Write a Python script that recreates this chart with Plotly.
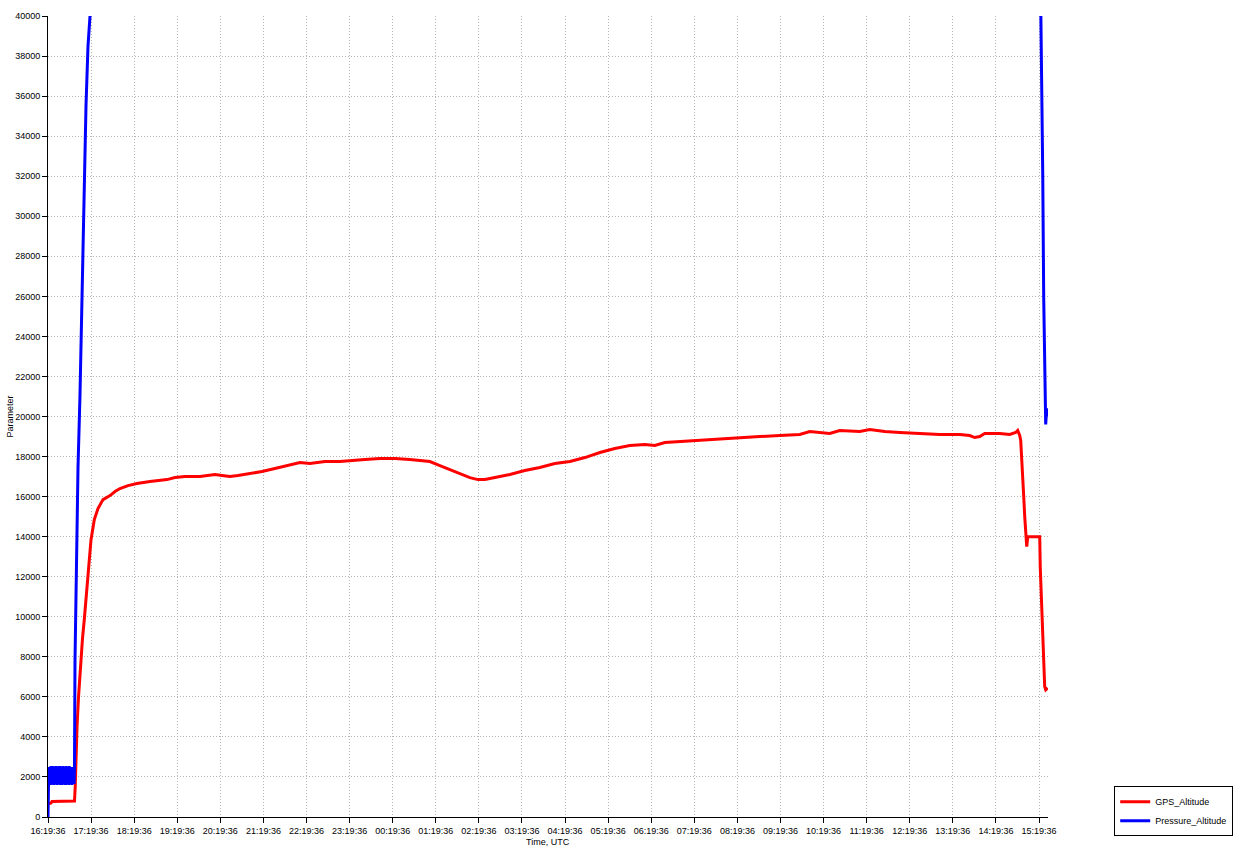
import pandas as pd
import plotly.graph_objects as go

START = "2000-01-01 16:19:36"

# GPS altitude: minutes since 16:19:36, feet
gps_minutes = [0, 4.2, 5.6, 36.9, 37.9, 39.0, 40.4, 42.5, 44.5, 45.9, 48.0, 50.5, 52.9, 55.3,
               57.8, 59.9, 64.5, 69.6, 76.6, 86.4, 93.3, 100.2, 111.4, 123.9, 142.0, 155.9,
               165.7, 176.8, 190.7, 211.6, 225.5, 232.5, 242.2, 253.4, 264.5, 281.2, 297.9,
               316.0, 336.9, 350.8, 364.7, 385.6, 406.5, 420.4, 441.3, 462.2, 483.1, 503.9,
               517.9, 531.8, 545.7, 559.6, 573.5, 587.5, 598.6, 608.4, 622.3, 643.2, 664.0,
               684.9, 705.8, 726.7, 747.6, 768.5, 789.3, 810.2, 831.1, 845.0, 858.9, 879.8,
               907.7, 935.5, 963.3, 991.2, 1019.0, 1046.9, 1060.8, 1074.7, 1088.6, 1102.5,
               1130.4, 1144.3, 1165.2, 1186.1, 1213.9, 1241.7, 1269.6, 1283.5, 1290.5, 1297.4,
               1304.4, 1325.3, 1339.2, 1347.5, 1350.3, 1353.1, 1354.5, 1355.9, 1357.3, 1358.7,
               1360.1, 1361.5, 1362.9, 1364.3, 1381.0, 1381.7, 1383.1, 1384.5, 1386.5, 1387.9,
               1389.3, 1392.1]
gps_alt = [650, 700, 780, 800, 1500, 3000, 4500, 6000, 7200, 7850, 8900, 9850, 10900, 11850,
           12900, 13850, 14850, 15400, 15850, 16050, 16250, 16400, 16550, 16650, 16750, 16800,
           16850, 16950, 17000, 17000, 17050, 17100, 17050, 17000, 17050, 17150, 17250,
           17400, 17600, 17700, 17650, 17750, 17750, 17800, 17850, 17900, 17900, 17850,
           17800, 17750, 17550, 17350, 17150, 16950, 16850, 16850, 16950, 17100, 17300,
           17450, 17650, 17750, 17950, 18200, 18400, 18550, 18600, 18550, 18700, 18750,
           18800, 18900, 18950, 19000, 19050, 19100, 19250, 19200, 19150, 19300,
           19250, 19350, 19250, 19200, 19150, 19100, 19100, 19050, 18950, 19000,
           19150, 19150, 19100, 19200, 19300, 19050, 18800, 18000, 17000, 16000,
           15000, 14000, 13500, 14000, 14000, 12500, 11000, 9500, 8000, 6500,
           6350, 6450]

# Pressure altitude: minutes since 16:19:36, feet
pressure_minutes = [0, 0.1, 0.4, 1.1, 1.9, 2.6, 3.4, 4.1, 4.9, 5.6, 6.4, 7.1, 7.9, 8.6, 9.4,
                    10.1, 10.9, 11.6, 12.4, 13.1, 13.9, 14.6, 15.4, 16.1, 16.9, 17.6, 18.4,
                    19.1, 19.9, 20.6, 21.4, 22.1, 22.9, 23.6, 24.4, 25.1, 25.9, 26.6, 27.4,
                    28.1, 28.9, 29.6, 30.4, 31.1, 31.9, 32.6, 33.4, 34.1, 34.9, 35.6, 36.4,
                    36.9, 37.6, 39.7, 41.8, 44.5, 47.3, 50.1, 52.9, 55.7, 58.5, 59.9,
                    350.8, 768.5, 1186.0, 1367.0, 1381.0, 1382.4, 1383.8, 1385.2, 1386.5,
                    1387.9, 1389.3, 1390.7, 1392.1]
pressure_alt = [0, 2300, 1650, 2500, 1700, 2450, 1600, 2550, 1650, 2500, 1700, 2550, 1600,
                2450, 1650, 2500, 1700, 2550, 1600, 2500, 1650, 2450, 1700, 2550, 1600, 2500,
                1650, 2450, 1600, 2550, 1700, 2500, 1650, 2450, 1600, 2550, 1700, 2500,
                1650, 2450, 1600, 2550, 1700, 2500, 1650, 2450, 1600, 2500, 1700, 2450,
                1650, 2500, 7800, 13000, 17500, 21000, 26000, 31000, 35500, 38500, 40000,
                42000, 52000, 56000, 55000, 48000, 44000, 40500, 37000, 32000, 26000,
                21500, 19600, 20400, 20000]

y_ticks = list(range(0, 40001, 2000))

t0 = pd.Timestamp(START)
gps_t = [t0 + pd.Timedelta(minutes=m) for m in gps_minutes]
pr_t = [t0 + pd.Timedelta(minutes=m) for m in pressure_minutes]

fig = go.Figure()
fig.add_trace(go.Scatter(x=gps_t, y=gps_alt, mode="lines", name="GPS_Altitude",
                         line=dict(color="#ff0000", width=3)))
fig.add_trace(go.Scatter(x=pr_t, y=pressure_alt, mode="lines", name="Pressure_Altitude",
                         line=dict(color="#0000ff", width=3)))

font = dict(family="Liberation Sans, Arial, sans-serif", size=9, color="#000000")
grid_dash = "1px,2px"

fig.update_layout(
    width=1238, height=849,
    margin=dict(l=48, r=190, t=16, b=32, autoexpand=False),
    paper_bgcolor="white", plot_bgcolor="white",
    font=font,
    showlegend=True,
    legend=dict(xref="container", yref="container", x=0.90, y=0.074,
                xanchor="left", yanchor="top",
                bordercolor="black", borderwidth=1, bgcolor="white",
                font=dict(size=9), tracegroupgap=0, itemwidth=30),
    xaxis=dict(
        type="date", automargin=False,
        range=[t0, t0 + pd.Timedelta(minutes=1392.5)],
        tick0=t0, dtick=3600000, tickformat="%H:%M:%S",
        showline=True, linecolor="black", linewidth=1,
        ticks="outside", ticklen=5, tickcolor="black",
        showgrid=True, gridcolor="#b4b4b4", griddash=grid_dash, gridwidth=1,
        zeroline=False,
        tickfont=dict(size=9),
    ),
    yaxis=dict(
        range=[0, 40000], automargin=False,
        tickvals=y_ticks, ticktext=[str(v) for v in y_ticks],
        showline=True, linecolor="black", linewidth=1,
        ticks="outside", ticklen=5, tickcolor="black",
        showgrid=True, gridcolor="#b4b4b4", griddash=grid_dash, gridwidth=1,
        zeroline=False,
        tickfont=dict(size=9),
    ),
    annotations=[
        dict(text="Time, UTC", xref="paper", yref="paper", x=0.5, y=0,
             yshift=-25, showarrow=False, font=dict(size=9), yanchor="middle"),
        dict(text="Parameter", xref="paper", yref="paper", x=0, y=0.5,
             xshift=-39, showarrow=False, font=dict(size=9), textangle=-90,
             xanchor="center"),
    ],
)

fig.write_html(
    "out.html",
    config={"displayModeBar": False},
    post_script="document.body.style.margin='0';document.body.style.overflow='hidden';",
)
